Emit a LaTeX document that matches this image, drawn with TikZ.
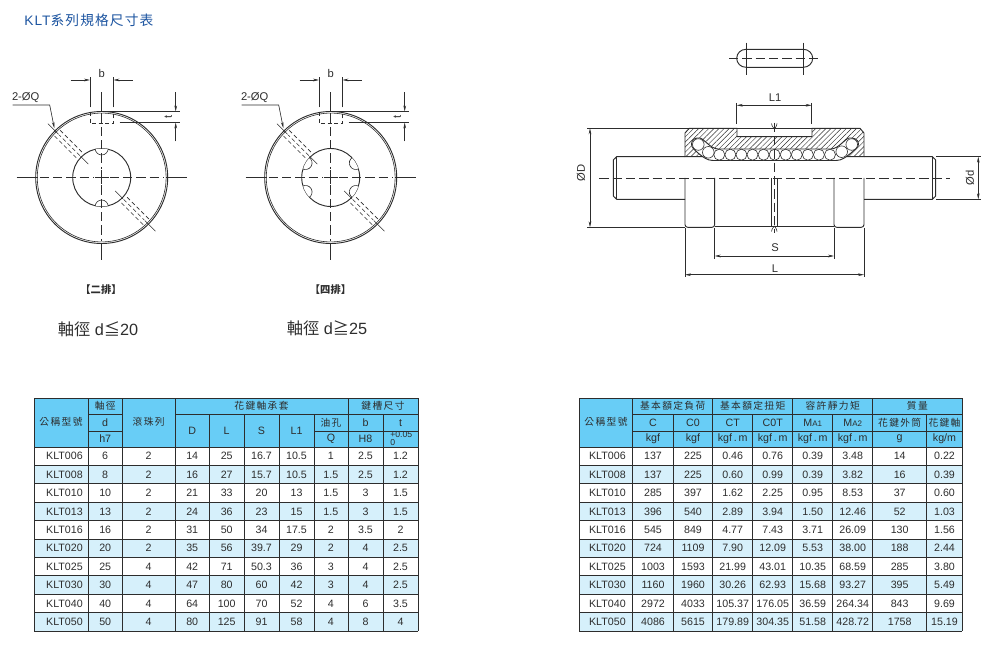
\documentclass[tikz,border=0pt]{standalone}
\usepackage{fontspec}
\usepackage{xcolor}
\usetikzlibrary{arrows.meta,patterns.meta}
\setmainfont{Liberation Sans}
\newfontfamily\cjkfont{Noto Sans CJK TC}
\newfontfamily\cjkwide[LetterSpace=14]{Noto Sans CJK TC}
\newfontfamily\titlefont[LetterSpace=8]{Liberation Sans}
\newfontfamily\titlecjk[LetterSpace=8]{Noto Sans CJK TC}
\definecolor{headblue}{RGB}{104, 205, 246}
\definecolor{rowblue}{RGB}{214, 240, 251}
\definecolor{titleblue}{RGB}{28, 84, 160}
\definecolor{inkgray}{RGB}{45, 45, 45}
\def\leftcols{{64.5,105.2,148.7,192.2,226.7,261.5,296.5,330.8,365.5,400.5}}
\def\rightcols{{607.4,653,693,732.7,772.7,812.7,852.7,899.7,944.5}}
\tikzset{
    x=0.75pt, y=-0.75pt,
    partline/.style={draw=inkgray, line width=0.7pt},
    thinline/.style={draw=inkgray, line width=0.45pt},
    dimline/.style={draw=inkgray, line width=0.45pt, -{Stealth[length=4.5pt,width=2pt]}},
    dimboth/.style={draw=inkgray, line width=0.45pt, {Stealth[length=4.5pt,width=2pt]}-{Stealth[length=4.5pt,width=2pt]}},
    centerline/.style={draw=inkgray, line width=0.5pt, dash pattern=on 7pt off 3pt},
    hiddenline/.style={draw=inkgray, line width=0.45pt, dash pattern=on 3pt off 2pt},
    gridline/.style={draw=inkgray, line width=0.5pt},
    dimtext/.style={font=\fontsize{8.4}{10}\selectfont, text=inkgray, inner sep=0pt},
    celltext/.style={font=\fontsize{8}{9}\selectfont, text=inkgray, inner sep=0pt},
    headtext/.style={font=\cjkwide\fontsize{7.3}{9}\selectfont, text=inkgray, inner sep=0pt},
    captext/.style={font=\cjkfont\fontsize{7.7}{9}\selectfont\bfseries, text=inkgray, inner sep=0pt},
    bigtext/.style={font=\fontsize{12.2}{15}\selectfont, text=inkgray, inner sep=0pt},
}
\begin{document}
\begin{tikzpicture}
    \useasboundingbox (0,0) rectangle (1000,649);

    % Title
    \node[anchor=west, text=titleblue, inner sep=0pt, font=\fontsize{10.3}{12}\selectfont] (title) at (24,20) {\titlefont KLT\titlecjk 系列規格尺寸表};

    % End views
    \foreach \cx/\nm/\grooves in {101.7/two/{90,270},330.7/four/{30,150,210,330}}
    {
        \begin{scope}[shift={(\cx,177.5)}]
            \draw[partline] (0,0) circle (66);
            \draw[thinline] (0,0) circle (64.4);
            \draw[partline] (0,0) circle (29);
            \begin{scope}
                \clip (0,0) circle (29);
                \foreach \a in \grooves
                    \draw[thinline, fill=white, rotate=\a] (29,0) circle (6.5);
            \end{scope}
            % center lines
            \draw[thinline] (-85,0) -- (-64,0) (64,0) -- (85,0) (-7,0) -- (7,0);
            \draw[centerline] (-62,0) -- (-8,0) (8,0) -- (62,0);
            \draw[thinline] (0,-85) -- (0,-66) (0,66) -- (0,83) (0,-7) -- (0,7);
            \draw[centerline] (0,-64) -- (0,-8) (0,8) -- (0,64);
            % oil holes
            \foreach \a in {135,315}
            {
                \draw[thinline, rotate=\a] (19,0) -- (30,0) (61,0) -- (76,0);
                \draw[hiddenline, rotate=\a] (31,0) -- (60,0) (32,4) -- (63,4) (32,-4) -- (63,-4);
            }
            % key seat
            \draw[hiddenline] (-11.7,-65.5) -- (-11.7,-54) -- (11.7,-54) -- (11.7,-65.5);
            \draw[thinline] (-11.7,-70) -- (-11.7,-100) (11.7,-70) -- (11.7,-100);
            \draw[dimline] (-31,-97.5) -- (-11.7,-97.5);
            \draw[dimline] (31,-97.5) -- (11.7,-97.5);
            \node[dimtext] (b\nm) at (0,-104.5) {b};
            % t dimension
            \draw[thinline] (0,-66) -- (78,-66) (18,-55) -- (78,-55);
            \draw[dimline] (74,-85) -- (74,-66);
            \draw[dimline] (74,-36) -- (74,-55);
            \node[dimtext, rotate=90] (t\nm) at (66.5,-60.5) {t};
            % hole label
            \node[dimtext] (q\nm) at (-76,-80) {2-ØQ};
            \draw[dimline] (-89,-72.5) -- (-52,-72.5) -- (-47.4,-49.5);
        \end{scope}
    }

    % Captions
    \node[captext] (captwo) at (101,290) {【二排】};
    \node[captext] (capfour) at (330.5,290) {【四排】};
    \node[bigtext] (dsmall) at (98,329) {{\cjkfont 軸徑} d{\cjkfont ≦}20};
    \node[bigtext] (dlarge) at (327,328) {{\cjkfont 軸徑} d{\cjkfont ≧}25};

    % Key
    \draw[partline] (746,49.3) -- (803.3,49.3) .. controls (808.5,49.3) and (812.7,53.3) .. (812.7,58.3) .. controls (812.7,63.3) and (808.5,67.3) .. (803.3,67.3) -- (746,67.3) .. controls (740.8,67.3) and (736.7,63.3) .. (736.7,58.3) .. controls (736.7,53.3) and (740.8,49.3) .. (746,49.3);
    \draw[centerline] (729,58.3) -- (819.5,58.3);
    \draw[thinline] (746,42.7) -- (746,75) (803.3,42.7) -- (803.3,75);

    % Nut section
    \draw[partline, pattern={Lines[angle=45,distance=2.7pt,line width=0.35pt]}, pattern color=inkgray] (685,133) -- (689.3,128.3) -- (737,128.3) -- (737,136.7) -- (812,136.7) -- (812,128.3) -- (860,128.3) -- (864,133) -- (864,156.7) -- (685,156.7) -- cycle;
    \draw[partline, fill=white] (691.5,144) .. controls (691.5,139) and (696,137.5) .. (700,138) .. controls (704,139) and (711,149) .. (718,149) -- (831,149) .. controls (838,149) and (845,139) .. (849,138) .. controls (853,137.5) and (858.5,139) .. (858.5,144) .. controls (858.5,148) and (854,150) .. (851,153) .. controls (846,157) and (842,160.5) .. (836,160.5) -- (713,160.5) .. controls (707,160.5) and (703,157) .. (698,153) .. controls (695,150) and (691.5,148) .. (691.5,144) -- cycle;
    \foreach \bx/\by in {698.3/144.5,708.3/152.3,841.7/151.7,851.7/144.5}
        \draw[thinline, fill=white] (\bx,\by) circle (5.8);
    \foreach \k in {0,...,10}
        \draw[thinline, fill=white] (719.3+11.07*\k,154.7) circle (5.5);
    \draw[partline] (737,128.3) -- (812,128.3);

    % Shaft
    \draw[partline] (685,156.7) -- (616.7,156.7) -- (613.3,160) -- (613.3,196) -- (616.7,199.3) -- (685,199.3);
    \draw[partline] (864,156.7) -- (932.3,156.7) -- (935.7,160) -- (935.7,196) -- (932.3,199.3) -- (864,199.3);
    \draw[thinline] (616.7,156.7) -- (616.7,199.3) (932.3,156.7) -- (932.3,199.3);

    % Nut lower half
    \draw[partline, rounded corners=2pt] (685,178) -- (685,227.3) -- (714.7,227.3) -- (714.7,178);
    \draw[partline, rounded corners=2pt] (864,178) -- (864,227.3) -- (834,227.3) -- (834,178);
    \draw[partline] (714.7,226.5) -- (834,226.5);
    \draw[thinline] (771.7,178) -- (771.7,226.5) (777.3,178) -- (777.3,226.5);

    % Groove marks
    \draw[thinline] (771.5,123.5) .. controls (772,127.5) and (774,127.5) .. (774.3,129) .. controls (774.6,127.5) and (776.6,127.5) .. (777,123.5);
    \draw[thinline] (771.5,231.5) .. controls (772,227.5) and (774,227.5) .. (774.3,226) .. controls (774.6,227.5) and (776.6,227.5) .. (777,231.5);

    % Center lines
    \draw[centerline] (599.3,178) -- (950,178);
    \draw[centerline] (774.3,122.7) -- (774.3,233);

    % L1
    \draw[thinline] (736.7,103) -- (736.7,124) (811.7,103) -- (811.7,124);
    \draw[dimboth] (736.7,105.3) -- (811.7,105.3);
    \node[dimtext] (lone) at (775,97.3) {L1};

    % Diameter D
    \draw[thinline] (587.3,128.3) -- (689,128.3) (587.3,227.3) -- (685,227.3);
    \draw[dimboth] (590,128.3) -- (590,227.3);
    \node[dimtext, rotate=90] (dbig) at (581,173) {ØD};

    % Diameter d
    \draw[thinline] (936,156.7) -- (981,156.7) (936,199.3) -- (981,199.3);
    \draw[dimboth] (978.3,156.7) -- (978.3,199.3);
    \node[dimtext, rotate=90] (dsmallshaft) at (970,178) {Ød};

    % S and L
    \draw[thinline] (714.7,228) -- (714.7,259) (834,228) -- (834,259);
    \draw[dimboth] (714.7,256) -- (834,256);
    \node[dimtext] (sdim) at (775,247.3) {S};
    \draw[thinline] (685,228) -- (685,277) (864,228) -- (864,277);
    \draw[dimboth] (685,274.7) -- (864,274.7);
    \node[dimtext] (ldim) at (775,268.5) {L};

    % Table backgrounds and grid
    \fill[headblue] (34,398) rectangle (418,447);
    \fill[headblue] (579,398) rectangle (962,447);
    \foreach \r in {2,4,...,10}
    {
        \fill[rowblue] (34,447+18.4*\r-18.4) rectangle (418,447+18.4*\r);
        \fill[rowblue] (579,447+18.4*\r-18.4) rectangle (962,447+18.4*\r);
    }
    \foreach \r in {0,...,10}
    {
        \draw[gridline] (34,447+18.4*\r) -- (418,447+18.4*\r);
        \draw[gridline] (579,447+18.4*\r) -- (962,447+18.4*\r);
    }
    \foreach \x in {34,88,122.5,175,348,418,579,632.7,712.7,792.7,872.7,962}
        \draw[gridline] (\x,398) -- (\x,631);
    \foreach \x in {209.5,244,279,314,383,673,752.7,832.7,926.7}
        \draw[gridline] (\x,414.5) -- (\x,631);
    \draw[gridline] (34,398) -- (418,398) (579,398) -- (962,398);
    \draw[gridline] (88,414.5) -- (122.5,414.5) (175,414.5) -- (418,414.5) (632.7,414.5) -- (962,414.5);
    \draw[gridline] (88,431) -- (122.5,431) (314,431) -- (418,431) (632.7,431) -- (962,431);

    % Left table header
    \foreach \nm/\x/\y/\txt in {la/61/422/公稱型號,lb/105.2/406/軸徑,lc/148.7/422/滾珠列,ld/261.5/406/花鍵軸承套,le/331/422.7/油孔,lf/383/406/鍵槽尺寸}
        \node[headtext] (\nm) at (\x,\y) {\txt};
    \foreach \nm/\x/\y/\txt in {lg/105.2/423/d,lh/105.2/439/h7,li/192.2/431/D,lj/226.7/431/L,lk/261.5/431/S,ll/296.5/431/L1,lm/331/439/Q,ln/365.5/423/b,lo/365.5/439/H8,lp/400.5/423/t}
        \node[celltext] (\nm) at (\x,\y) {\txt};
    \node[celltext, font=\fontsize{6.5}{7}\selectfont, anchor=west] (lq) at (390,435) {+0.05};
    \node[celltext, font=\fontsize{6.5}{7}\selectfont, anchor=west] (lr) at (390,442.6) {0};

    % Right table header
    \foreach \nm/\x/\y/\txt in {ra/606/422/公稱型號,rb/672.7/406/基本額定負荷,rc/752.7/406/基本額定扭矩,rd/832.7/406/容許靜力矩,re/917.4/406/質量,rf/899.7/422.7/花鍵外筒,rg/944.5/422.7/花鍵軸}
        \node[headtext] (\nm) at (\x,\y) {\txt};
    \foreach \nm/\x/\y/\txt in {rh/653/422.7/C,ri/693/422.7/C0,rj/732.7/422.7/CT,rk/772.7/422.7/C0T,rl/812.7/422.7/{M{\fontsize{6}{7}\selectfont A1}},rm/852.7/422.7/{M{\fontsize{6}{7}\selectfont A2}},rn/653/439/kgf,ro/693/439/kgf,rp/732.7/439/{kgf\,.\,m},rq/772.7/439/{kgf\,.\,m},rr/812.7/439/{kgf\,.\,m},rs/852.7/439/{kgf\,.\,m},rt/899.7/439/g,ru/944.5/439/{kg/m}}
        \node[celltext] (\nm) at (\x,\y) {\txt};

    % Left table data
    \foreach \vals [count=\r] in {
        {KLT006,6,2,14,25,16.7,10.5,1,2.5,1.2},
        {KLT008,8,2,16,27,15.7,10.5,1.5,2.5,1.2},
        {KLT010,10,2,21,33,20,13,1.5,3,1.5},
        {KLT013,13,2,24,36,23,15,1.5,3,1.5},
        {KLT016,16,2,31,50,34,17.5,2,3.5,2},
        {KLT020,20,2,35,56,39.7,29,2,4,2.5},
        {KLT025,25,4,42,71,50.3,36,3,4,2.5},
        {KLT030,30,4,47,80,60,42,3,4,2.5},
        {KLT040,40,4,64,100,70,52,4,6,3.5},
        {KLT050,50,4,80,125,91,58,4,8,4}}
    {
        \foreach \txt [count=\c] in \vals
        {
            \pgfmathsetmacro\cellx{\leftcols[\c-1]}
            \node[celltext] (left\r-\c) at (\cellx,456.2+18.4*\r-18.4) {\txt};
        }
    }

    % Right table data
    \foreach \vals [count=\r] in {
        {KLT006,137,225,0.46,0.76,0.39,3.48,14,0.22},
        {KLT008,137,225,0.60,0.99,0.39,3.82,16,0.39},
        {KLT010,285,397,1.62,2.25,0.95,8.53,37,0.60},
        {KLT013,396,540,2.89,3.94,1.50,12.46,52,1.03},
        {KLT016,545,849,4.77,7.43,3.71,26.09,130,1.56},
        {KLT020,724,1109,7.90,12.09,5.53,38.00,188,2.44},
        {KLT025,1003,1593,21.99,43.01,10.35,68.59,285,3.80},
        {KLT030,1160,1960,30.26,62.93,15.68,93.27,395,5.49},
        {KLT040,2972,4033,105.37,176.05,36.59,264.34,843,9.69},
        {KLT050,4086,5615,179.89,304.35,51.58,428.72,1758,15.19}}
    {
        \foreach \txt [count=\c] in \vals
        {
            \pgfmathsetmacro\cellx{\rightcols[\c-1]}
            \node[celltext] (right\r-\c) at (\cellx,456.2+18.4*\r-18.4) {\txt};
        }
    }
\end{tikzpicture}
\end{document}
